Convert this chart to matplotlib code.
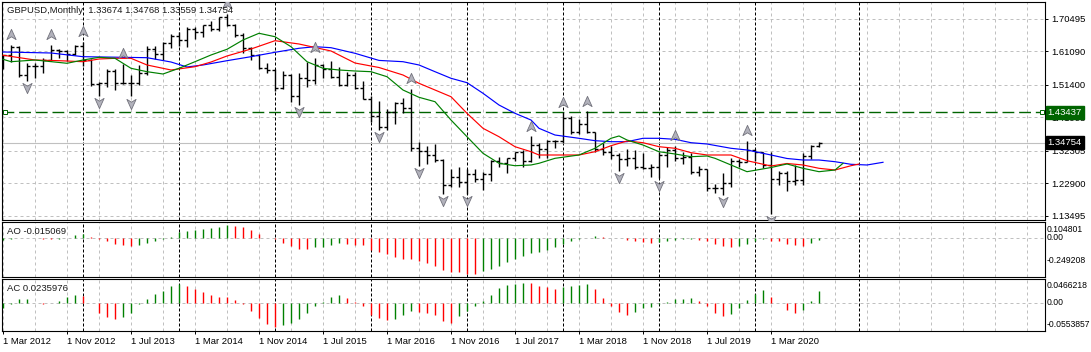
import numpy as np
import matplotlib.pyplot as plt
from matplotlib.path import Path
from matplotlib.transforms import offset_copy, blended_transform_factory

plt.rcParams['font.family'] = ['Liberation Sans', 'DejaVu Sans']
plt.rcParams['font.size'] = 6.8

W, H = 1091, 352

symbol = 'GBPUSD,Monthly'
date_labels = ['1 Mar 2012', '1 Nov 2012', '1 Jul 2013', '1 Mar 2014', '1 Nov 2014',
               '1 Jul 2015', '1 Mar 2016', '1 Nov 2016', '1 Jul 2017', '1 Mar 2018',
               '1 Nov 2018', '1 Jul 2019', '1 Mar 2020']
date_label_bars = [0, 8, 16, 24, 32, 40, 48, 56, 64, 72, 80, 88, 96]
year_bars = [10, 22, 34, 46, 58, 70, 82, 94, 107]

# monthly bars, Mar 2012 .. Sep 2020
opens = [1.5730, 1.5994, 1.6232, 1.5424, 1.5682, 1.5687, 1.5860, 1.6147, 1.6128, 1.6024,
         1.6255, 1.5855, 1.5173, 1.5190, 1.5533, 1.5199, 1.5210, 1.5209, 1.5495, 1.6188,
         1.6039, 1.6367, 1.6566, 1.6430, 1.6750, 1.6675, 1.6881, 1.6747, 1.7106, 1.6882,
         1.6594, 1.6208, 1.5995, 1.5625, 1.5577, 1.5063, 1.5437, 1.4823, 1.5355, 1.5286,
         1.5707, 1.5615, 1.5374, 1.5125, 1.5427, 1.5045, 1.4737, 1.4240, 1.3920, 1.4364,
         1.4616, 1.4484, 1.3311, 1.3228, 1.3127, 1.2982, 1.2240, 1.2470, 1.2340, 1.2578,
         1.2413, 1.2552, 1.2944, 1.2887, 1.3024, 1.3204, 1.2926, 1.3398, 1.3284, 1.3523,
         1.3511, 1.4191, 1.3774, 1.4020, 1.3770, 1.3300, 1.3209, 1.3123, 1.2999, 1.3032,
         1.2766, 1.2747, 1.2754, 1.3113, 1.3259, 1.3033, 1.3043, 1.2622, 1.2698, 1.2158,
         1.2158, 1.2293, 1.2943, 1.2915, 1.3260, 1.3203, 1.2828, 1.2417, 1.2585, 1.2350,
         1.2401, 1.3091, 1.33674]
highs = [1.6006, 1.6301, 1.6275, 1.5776, 1.5780, 1.5913, 1.6309, 1.6176, 1.6140, 1.6308,
         1.6381, 1.5891, 1.5238, 1.5605, 1.5605, 1.5751, 1.5426, 1.5718, 1.6259, 1.6258,
         1.6381, 1.6602, 1.6668, 1.6823, 1.6822, 1.6885, 1.6996, 1.7107, 1.7192, 1.6890,
         1.6644, 1.6227, 1.6040, 1.5785, 1.5589, 1.5552, 1.5450, 1.5498, 1.5815, 1.5930,
         1.5735, 1.5819, 1.5659, 1.5509, 1.5509, 1.5242, 1.4812, 1.4668, 1.4459, 1.4640,
         1.4770, 1.5018, 1.3480, 1.3371, 1.3445, 1.2989, 1.2700, 1.2775, 1.2707, 1.2706,
         1.2615, 1.2962, 1.3048, 1.3030, 1.3213, 1.3268, 1.3657, 1.3450, 1.3549, 1.3549,
         1.4345, 1.4234, 1.4145, 1.4377, 1.3783, 1.3473, 1.3362, 1.3172, 1.3298, 1.3258,
         1.3175, 1.2840, 1.3215, 1.3350, 1.3382, 1.3196, 1.3176, 1.2784, 1.2708, 1.2274,
         1.2582, 1.3013, 1.2985, 1.3514, 1.3284, 1.3212, 1.3200, 1.2648, 1.2647, 1.2813,
         1.3170, 1.3395, 1.34768]
lows = [1.5602, 1.5804, 1.5368, 1.5267, 1.5347, 1.5492, 1.5835, 1.5914, 1.5827, 1.6002,
        1.5680, 1.5105, 1.4831, 1.5073, 1.5008, 1.5181, 1.4814, 1.5131, 1.5426, 1.5893,
        1.5876, 1.6199, 1.6255, 1.6252, 1.6458, 1.6523, 1.6693, 1.6692, 1.6844, 1.6535,
        1.6052, 1.5875, 1.5591, 1.5486, 1.4952, 1.5019, 1.4633, 1.4566, 1.5089, 1.5170,
        1.5330, 1.5330, 1.5108, 1.5106, 1.5026, 1.4725, 1.4079, 1.3836, 1.3840, 1.4006,
        1.4333, 1.3229, 1.2798, 1.2865, 1.2915, 1.1985, 1.2200, 1.2201, 1.1986, 1.2345,
        1.2109, 1.2365, 1.2772, 1.2589, 1.2932, 1.2774, 1.2922, 1.3027, 1.3039, 1.3305,
        1.3458, 1.3712, 1.3711, 1.3757, 1.3205, 1.3102, 1.3011, 1.2662, 1.2785, 1.2696,
        1.2722, 1.2477, 1.2440, 1.2773, 1.2945, 1.2866, 1.2559, 1.2506, 1.2080, 1.2015,
        1.1958, 1.2196, 1.2768, 1.2904, 1.2954, 1.2725, 1.1410, 1.2247, 1.2076, 1.2252,
        1.2253, 1.3004, 1.33559]
closes = [1.5994, 1.6232, 1.5424, 1.5682, 1.5687, 1.5860, 1.6147, 1.6128, 1.6024, 1.6255,
          1.5855, 1.5173, 1.5190, 1.5533, 1.5199, 1.5210, 1.5209, 1.5495, 1.6188, 1.6039,
          1.6367, 1.6566, 1.6430, 1.6750, 1.6675, 1.6881, 1.6747, 1.7106, 1.6882, 1.6594,
          1.6208, 1.5995, 1.5625, 1.5577, 1.5063, 1.5437, 1.4823, 1.5355, 1.5286, 1.5707,
          1.5615, 1.5374, 1.5125, 1.5427, 1.5045, 1.4737, 1.4240, 1.3920, 1.4364, 1.4616,
          1.4484, 1.3311, 1.3228, 1.3127, 1.2982, 1.2240, 1.2470, 1.2340, 1.2578, 1.2413,
          1.2552, 1.2944, 1.2887, 1.3024, 1.3204, 1.2926, 1.3398, 1.3284, 1.3523, 1.3511,
          1.4191, 1.3774, 1.4020, 1.3770, 1.3300, 1.3209, 1.3123, 1.2999, 1.3032, 1.2766,
          1.2747, 1.2754, 1.3113, 1.3259, 1.3033, 1.3043, 1.2622, 1.2698, 1.2158, 1.2158,
          1.2293, 1.2943, 1.2915, 1.3260, 1.3203, 1.2828, 1.2417, 1.2585, 1.2350, 1.2401,
          1.3091, 1.3374, 1.34754]

# alligator lines (bar index, price)
jaw_bars = [0, 6, 10, 15, 18, 21, 23, 25, 28, 31, 34, 37, 39, 41, 44, 47, 50, 52, 54, 56,
            58, 60, 62, 64, 66, 67, 69, 72, 74, 76, 78, 80, 82, 84, 86, 88, 91, 93, 96, 98,
            100, 102, 104, 106, 108, 110]
jaw_vals = [1.6094, 1.6065, 1.5958, 1.5940, 1.5929, 1.5804, 1.5660, 1.5718, 1.5842, 1.5958,
            1.6085, 1.6201, 1.6247, 1.6218, 1.6056, 1.5850, 1.5813, 1.5718, 1.5524, 1.5333,
            1.5206, 1.4899, 1.4560, 1.4320, 1.4126, 1.3886, 1.3692, 1.3597, 1.3528, 1.3499,
            1.3499, 1.3597, 1.3597, 1.3568, 1.3470, 1.3432, 1.3308, 1.3259, 1.3114, 1.3013,
            1.2969, 1.2969, 1.2920, 1.2845, 1.2825, 1.2903]
teeth_bars = [0, 4, 7, 10, 12, 14, 16, 18, 21, 24, 26, 28, 31, 34, 37, 41, 44, 47, 50, 52,
              54, 56, 58, 60, 62, 64, 66, 67, 69, 72, 74, 76, 78, 80, 82, 84, 86, 88, 91, 93,
              96, 98, 100, 102, 104, 106, 107]
teeth_vals = [1.6000, 1.5862, 1.5842, 1.5813, 1.5891, 1.5911, 1.5911, 1.5718, 1.5573, 1.5668,
              1.5804, 1.5978, 1.6180, 1.6421, 1.6325, 1.6123, 1.5775, 1.5645, 1.5428, 1.5188,
              1.4994, 1.4800, 1.4320, 1.3886, 1.3643, 1.3354, 1.3209, 1.3114, 1.3114, 1.3114,
              1.3209, 1.3383, 1.3519, 1.3470, 1.3354, 1.3308, 1.3181, 1.3114, 1.3114, 1.2949,
              1.2796, 1.2868, 1.2825, 1.2729, 1.2680, 1.2804, 1.2853]
lips_bars = [0, 1, 4, 8, 10, 12, 14, 16, 18, 20, 22, 24, 26, 28, 30, 32, 34, 36, 38, 40,
             42, 44, 46, 48, 50, 52, 54, 56, 58, 60, 62, 64, 66, 67, 69, 72, 74, 76, 77, 78,
             80, 82, 84, 86, 88, 89, 91, 93, 96, 98, 100, 102, 104, 105]
lips_vals = [1.5883, 1.5813, 1.5862, 1.5767, 1.5862, 1.5940, 1.5911, 1.5622, 1.5524, 1.5457,
             1.5622, 1.5813, 1.6007, 1.6172, 1.6441, 1.6635, 1.6536, 1.6247, 1.5813, 1.5622,
             1.5573, 1.5544, 1.5524, 1.5379, 1.4994, 1.4783, 1.4656, 1.4126, 1.3643, 1.3163,
             1.2874, 1.2804, 1.2825, 1.2874, 1.3018, 1.3114, 1.3308, 1.3597, 1.3664, 1.3548,
             1.3403, 1.3209, 1.3143, 1.3065, 1.3085, 1.3018, 1.2825, 1.2631, 1.2752, 1.2854,
             1.2729, 1.2631, 1.2680, 1.2873]

fractal_up = [1, 6, 10, 15, 28, 39, 51, 66, 70, 73, 84, 93]
fractal_down = [3, 12, 16, 37, 47, 52, 55, 58, 77, 82, 90, 96]

level = 1.43437
price_ticks = [1.13495, 1.22900, 1.32305, 1.41995, 1.51400, 1.61090, 1.70495]

ao = [-0.010, -0.006, -0.003, -0.001, -0.002, -0.004, -0.005, -0.004, -0.002, 0.017,
      0.024, 0.008, -0.009, -0.021, -0.039, -0.047, -0.054, -0.045, -0.034, -0.021,
      -0.009, 0.009, 0.039, 0.043, 0.054, 0.060, 0.067, 0.073, 0.082, 0.077,
      0.069, 0.054, 0.028, 0.002, -0.004, -0.034, -0.054, -0.068, -0.070, -0.060,
      -0.056, -0.047, -0.034, -0.039, -0.045, -0.047, -0.079, -0.090, -0.105, -0.122,
      -0.133, -0.137, -0.148, -0.158, -0.178, -0.204, -0.219, -0.222, -0.230, -0.232,
      -0.212, -0.197, -0.182, -0.157, -0.137, -0.116, -0.097, -0.092, -0.075, -0.060,
      -0.040, -0.022, -0.005, 0.002, 0.010, 0.006, 0.001, -0.002, -0.015, -0.021,
      -0.024, -0.030, -0.027, -0.021, -0.013, -0.009, -0.006, -0.010, -0.021, -0.036,
      -0.054, -0.055, -0.052, -0.041, -0.020, -0.009, -0.017, -0.021, -0.041, -0.047,
      -0.054, -0.034, -0.015069]
ac = [-0.010, -0.002, 0.007, 0.008, -0.001, -0.002, -0.001, 0.003, 0.011, 0.015,
      0.014, 0.000, -0.021, -0.029, -0.033, -0.029, -0.021, -0.002, 0.007, 0.018,
      0.023, 0.032, 0.037, 0.032, 0.026, 0.020, 0.016, 0.012, 0.011, 0.005,
      -0.002, -0.016, -0.030, -0.043, -0.049, -0.045, -0.040, -0.033, -0.021, -0.006,
      0.002, 0.012, 0.016, 0.009, 0.001, -0.007, -0.024, -0.030, -0.034, -0.033,
      -0.024, -0.016, -0.019, -0.021, -0.025, -0.037, -0.040, -0.026, -0.016, -0.006,
      0.004, 0.016, 0.028, 0.034, 0.037, 0.039, 0.038, 0.032, 0.031, 0.026,
      0.031, 0.032, 0.034, 0.036, 0.026, 0.009, -0.006, -0.019, -0.025, -0.019,
      -0.011, -0.008, -0.003, 0.001, 0.007, 0.008, 0.009, 0.003, -0.007, -0.020,
      -0.026, -0.022, -0.011, 0.005, 0.018, 0.024, 0.011, 0.000, -0.014, -0.021,
      -0.014, 0.003, 0.0235976]
ao_range = (-0.249208, 0.104801)
ac_range = (-0.0553857, 0.0466218)

GREEN = '#008000'
RED = '#ff0000'
LEVEL_GREEN = '#006400'

x = np.arange(len(opens))

fig = plt.figure(figsize=(W / 100, H / 100), dpi=100)


def rect(l, t, r, b):
    return [l / W, 1 - b / H, (r - l) / W, (b - t) / H]


ax = fig.add_axes(rect(2, 2, 1045, 219.5))
ax_ao = fig.add_axes(rect(2, 221.7, 1045, 276.7), sharex=ax)
ax_ac = fig.add_axes(rect(2, 279, 1045, 330.7), sharex=ax)
ax.set_xlim(-0.125, 130.25)

for a in (ax, ax_ao, ax_ac):
    for b in range(0, 131, 4):
        a.axvline(b, color='#c0c0c0', lw=0.72, ls=(0, (3, 3)), zorder=0)
    for b in year_bars:
        a.axvline(b, color='black', lw=0.72, ls=(0, (3, 2)), zorder=1)
    for s in a.spines.values():
        s.set_linewidth(0.8)
        s.set_color('black')

# main price panel
for p in price_ticks:
    ax.axhline(p, color='#c0c0c0', lw=0.72, ls=(0, (3, 3)), zorder=0)
ax.axhline(closes[-1], color='#c0c0c0', lw=0.8, zorder=1)
ax.axhline(level, color=LEVEL_GREEN, lw=1.0, ls=(0, (8.5, 3.5)), zorder=2)
sq_tr = blended_transform_factory(ax.transAxes, ax.transData)
ax.plot([0.003, 0.997], [level, level], transform=sq_tr, ls='none', marker='s', ms=3,
        mfc='white', mec=LEVEL_GREEN, mew=0.7, zorder=6, clip_on=False)

ax.vlines(x, lows, highs, color='black', lw=1.0, zorder=3)
ax.hlines(opens, x - 0.375, x, color='black', lw=1.0, zorder=3)
ax.hlines(closes, x, x + 0.375, color='black', lw=1.0, zorder=3)

ax.plot(jaw_bars, jaw_vals, color='#0000ff', lw=0.85, zorder=4)
ax.plot(teeth_bars, teeth_vals, color='#ff0000', lw=0.85, zorder=4)
ax.plot(lips_bars, lips_vals, color=GREEN, lw=0.85, zorder=4)

up_arrow = Path([(0, 1), (0.9, -1), (0, -0.45), (-0.9, -1), (0, 1)],
                [Path.MOVETO, Path.LINETO, Path.LINETO, Path.LINETO, Path.CLOSEPOLY])
down_arrow = Path([(0, -1), (0.9, 1), (0, 0.45), (-0.9, 1), (0, -1)],
                  [Path.MOVETO, Path.LINETO, Path.LINETO, Path.LINETO, Path.CLOSEPOLY])
up_tr = offset_copy(ax.transData, fig=fig, y=7.7, units='points')
dn_tr = offset_copy(ax.transData, fig=fig, y=-5.3, units='points')
ax.plot(fractal_up, np.array(highs)[fractal_up], ls='none', marker=up_arrow, ms=7.4,
        mfc='#b2b2bc', mec='#72727c', mew=0.6, transform=up_tr, zorder=5)
ax.plot(fractal_down, np.array(lows)[fractal_down], ls='none', marker=down_arrow, ms=7.4,
        mfc='#b2b2bc', mec='#72727c', mew=0.6, transform=dn_tr, zorder=5)

ax.set_ylim(1.1248, 1.7540)
ax.yaxis.tick_right()
ax.set_yticks(price_ticks)
ax.set_yticklabels([f'{p:.5f}' for p in price_ticks])
ax.tick_params(axis='y', length=2.2, width=0.7, pad=2.5, labelsize=6.8)
ax.tick_params(axis='x', bottom=False, labelbottom=False)

ytr = ax.get_yaxis_transform()
ax.annotate(f'{level:.5f}', xy=(1, level), xycoords=ytr, xytext=(2.0, 0),
            textcoords='offset points', ha='left', va='center', color='white',
            bbox=dict(boxstyle='square,pad=0.22', fc=LEVEL_GREEN, ec=LEVEL_GREEN),
            annotation_clip=False, zorder=10)
ax.annotate(f'{closes[-1]:.5f}', xy=(1, closes[-1]), xycoords=ytr, xytext=(2.0, 0),
            textcoords='offset points', ha='left', va='center', color='white',
            bbox=dict(boxstyle='square,pad=0.22', fc='black', ec='black'),
            annotation_clip=False, zorder=10)
ax.annotate(f'{symbol}  {opens[-1]:.5f} {highs[-1]:.5f} {lows[-1]:.5f} {closes[-1]:.5f}',
            xy=(0, 1), xycoords='axes fraction', xytext=(3.6, -5.8),
            textcoords='offset points', ha='left', va='center', color='#1a1a1a', zorder=10)


# oscillator panels
def osc_panel(a, vals, rng, name, fmt, offs):
    vals = np.array(vals)
    up = np.r_[True, vals[1:] > vals[:-1]]
    cols = np.where(up, GREEN, RED)
    a.axhline(0, color='#c0c0c0', lw=0.72, ls=(0, (3, 3)), zorder=0)
    a.vlines(x, 0, vals, colors=cols, lw=1.0, zorder=3)
    a.set_ylim(*rng)
    a.set_yticks([])
    a.tick_params(axis='x', bottom=False, labelbottom=False)
    tr = a.get_yaxis_transform()
    labels = [fmt.format(rng[1]), '0.00', fmt.format(rng[0])]
    for v, txt, dy in zip([rng[1], 0, rng[0]], labels, offs):
        a.annotate(txt, xy=(1, v), xycoords=tr, xytext=(1.2, dy), textcoords='offset points',
                   ha='left', va='center', fontsize=6.2, annotation_clip=False)
    a.annotate(f'{name} {fmt.format(vals[-1])}', xy=(0, 1), xycoords='axes fraction',
               xytext=(3.8, -6.8), textcoords='offset points', ha='left', va='center',
               color='#1a1a1a')


osc_panel(ax_ao, ao, ao_range, 'AO', '{:.6f}', [-5.4, 0, 11.5])
osc_panel(ax_ac, ac, ac_range, 'AC', '{:.7f}', [-5.0, 0, 4.6])

ax_ac.set_xticks(date_label_bars)
ax_ac.set_xticklabels(date_labels, ha='left')
ax_ac.tick_params(axis='x', bottom=True, labelbottom=True, length=2.2, width=0.7, pad=2.3,
                  labelsize=6.8)

fig.savefig('out.png', dpi=100, facecolor='white')
